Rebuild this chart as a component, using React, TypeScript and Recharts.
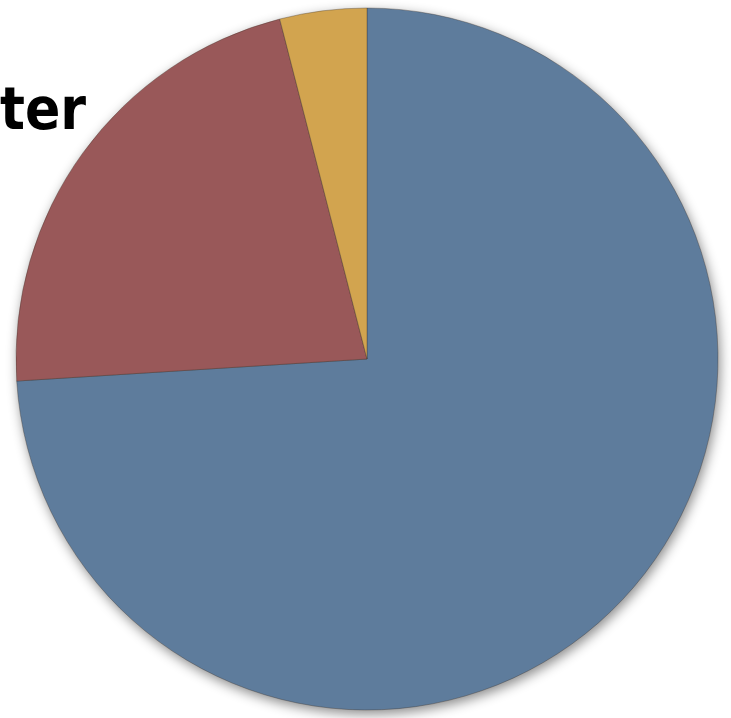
import { Cell, Pie, PieChart } from "recharts";

const labels = ["A", "B", "C"];
const values = [74, 22, 4];
const colors = ["#5e7c9c", "#995859", "#d2a44f"];

const data = labels.map((name, i) => ({ name, value: values[i] }));

export default function App() {
  return (
    <div style={{ position: "absolute", left: 0, top: 0, width: 731, height: 718, background: "#fff", overflow: "hidden" }}>
      <div
        style={{
          position: "absolute",
          left: 0,
          top: 80,
          fontFamily: "'DejaVu Sans', sans-serif",
          fontStretch: "condensed",
          fontWeight: 700,
          fontSize: 58,
          color: "#000",
          lineHeight: 1,
        }}
      >
        ter
      </div>
      <div style={{ position: "absolute", left: 0, top: 0, filter: "drop-shadow(2px 4px 6px rgba(0,0,0,0.45))" }}>
        <PieChart width={731} height={718}>
          <Pie
            data={data}
            dataKey="value"
            nameKey="name"
            cx={362}
            cy={354}
            outerRadius={351}
            startAngle={90}
            endAngle={-270}
            stroke="rgba(60,50,40,0.35)"
            strokeWidth={1}
            isAnimationActive={false}
          >
            {data.map((d, i) => (
              <Cell key={d.name} fill={colors[i]} />
            ))}
          </Pie>
        </PieChart>
      </div>
    </div>
  );
}
